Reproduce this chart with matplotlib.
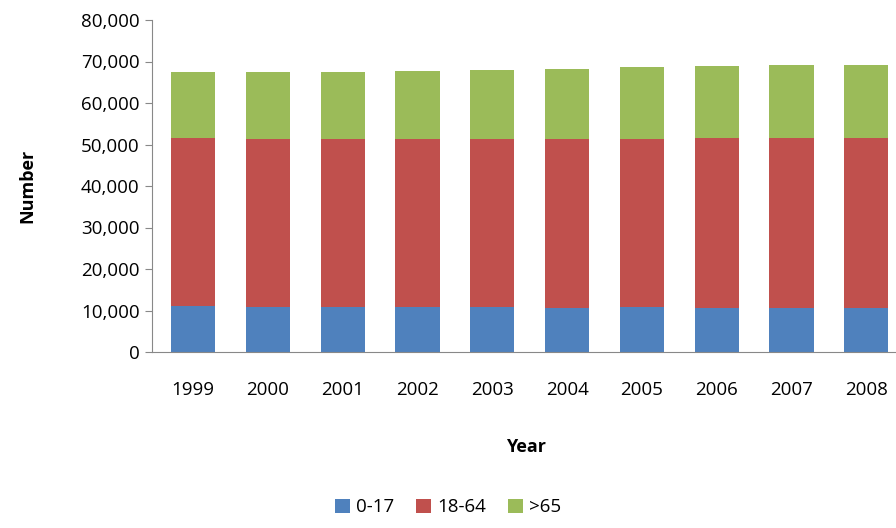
import matplotlib
matplotlib.use("Agg")
import matplotlib.pyplot as plt
from matplotlib.ticker import FuncFormatter

plt.rcParams["font.family"] = ["Open Sans", "DejaVu Sans"]

years = ["1999", "2000", "2001", "2002", "2003", "2004", "2005", "2006", "2007", "2008"]
age_0_17 = [11140, 10820, 10820, 10820, 10820, 10580, 10820, 10580, 10580, 10580]
totals_to_64 = [51570, 51260, 51260, 51260, 51260, 51260, 51260, 51570, 51570, 51570]
totals_all = [67400, 67400, 67400, 67700, 67960, 68280, 68600, 68930, 69250, 69250]

age_18_64 = [b - a for a, b in zip(age_0_17, totals_to_64)]
age_65 = [c - b for b, c in zip(totals_to_64, totals_all)]

fig = plt.figure(figsize=(8.96, 5.28), dpi=100)
ax = fig.add_axes([152 / 896, 1 - 352 / 528, 748 / 896, 332 / 528])

x = range(len(years))
w = 0.59
ax.bar(x, age_0_17, w, color="#4f81bd", label="0-17")
ax.bar(x, age_18_64, w, bottom=age_0_17, color="#c0504d", label="18-64")
ax.bar(x, age_65, w, bottom=totals_to_64, color="#9bbb59", label=">65")

ax.set_xlim(-0.55, 9.45)
ax.set_ylim(0, 80000)
ax.set_yticks(range(0, 80001, 10000))
ax.yaxis.set_major_formatter(FuncFormatter(lambda v, p: f"{int(v):,}"))
ax.set_xticks(list(x))
ax.set_xticklabels(years)
ax.tick_params(axis="x", length=0, pad=21, labelsize=13.5)
ax.tick_params(axis="y", length=5, direction="out", color="#888888", labelsize=13.5, pad=4)
for s in ["top", "right"]:
    ax.spines[s].set_visible(False)
for s in ["left", "bottom"]:
    ax.spines[s].set_color("#888888")

ax.set_ylabel("Number", fontsize=13, fontweight="bold", labelpad=32)
ax.set_xlabel("Year", fontsize=13, fontweight="bold", labelpad=28)

fig.legend(loc="lower center", bbox_to_anchor=(0.5, -0.01), ncol=3, frameon=False,
           fontsize=13.5, handlelength=0.8, handleheight=0.8, columnspacing=1.2,
           handletextpad=0.3)

fig.savefig("out.png", dpi=100)
